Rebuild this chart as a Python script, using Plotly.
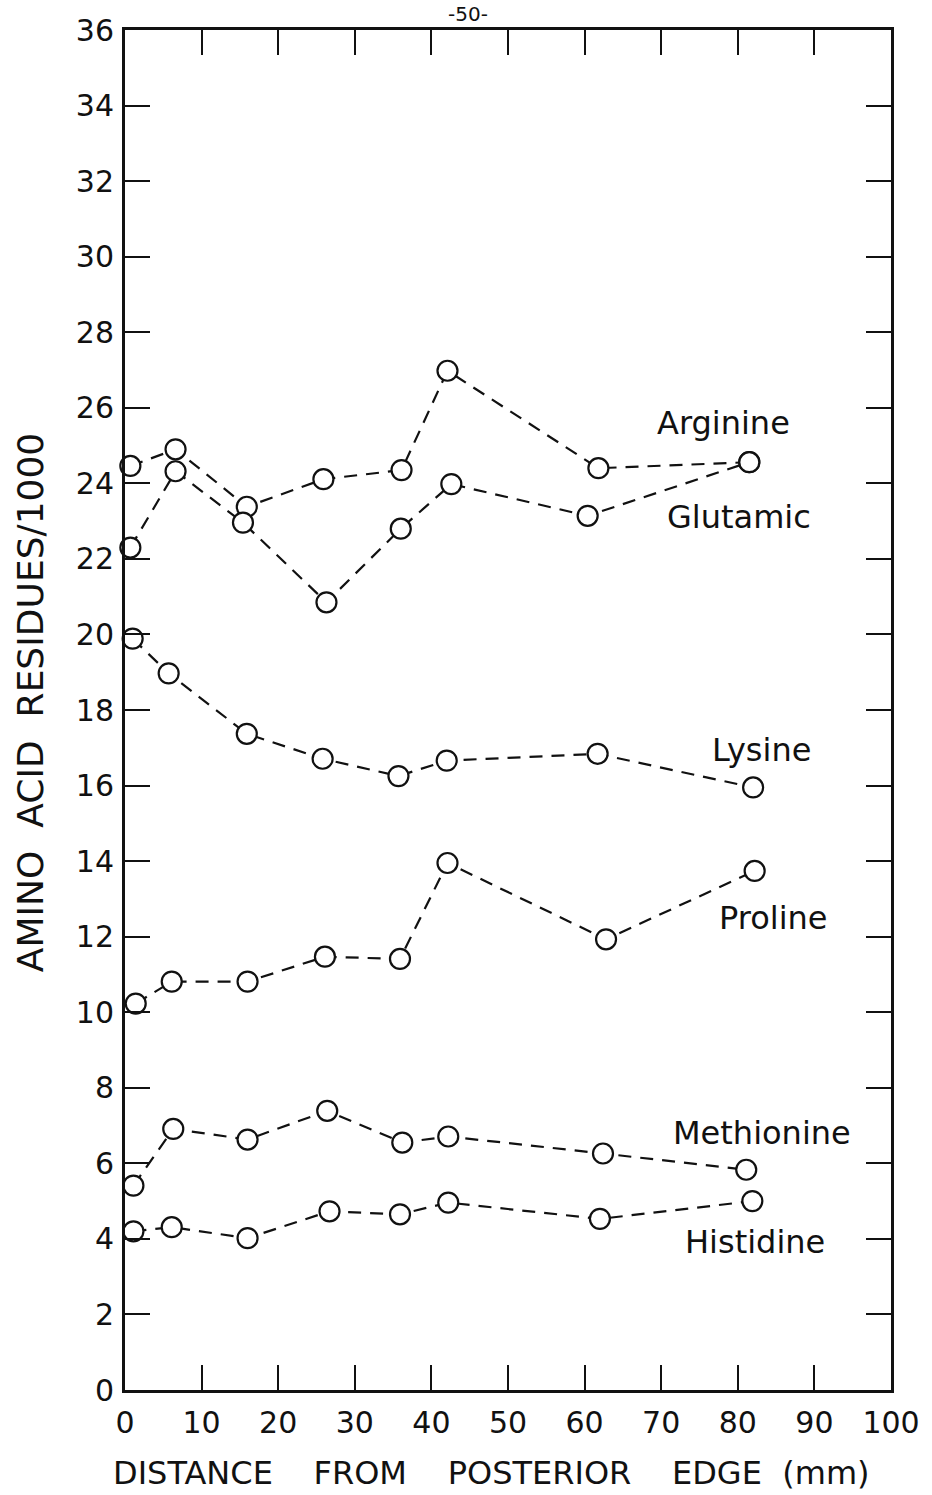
import plotly.graph_objects as go

# Distance from posterior edge (mm) and residues per 1000 for each amino acid
arg_x = [0.7, 6.6, 15.9, 25.9, 36.1, 42.1, 61.8, 81.5]
arg_y = [24.46, 24.90, 23.38, 24.11, 24.35, 26.98, 24.40, 24.56]
glu_x = [0.7, 6.6, 15.4, 26.3, 36.0, 42.6, 60.4, 81.5]
glu_y = [22.30, 24.32, 22.96, 20.85, 22.80, 23.98, 23.14, 24.56]
lys_x = [1.0, 5.7, 15.9, 25.8, 35.7, 42.0, 61.7, 82.0]
lys_y = [19.89, 18.97, 17.37, 16.71, 16.25, 16.66, 16.84, 15.95]
pro_x = [1.4, 6.1, 16.0, 26.1, 35.9, 42.1, 62.8, 82.2]
pro_y = [10.23, 10.81, 10.81, 11.47, 11.41, 13.95, 11.93, 13.74]
met_x = [1.1, 6.3, 16.0, 26.4, 36.2, 42.2, 62.4, 81.1]
met_y = [5.41, 6.91, 6.63, 7.39, 6.55, 6.71, 6.26, 5.83]
his_x = [1.1, 6.1, 16.0, 26.7, 35.9, 42.2, 62.0, 81.9]
his_y = [4.20, 4.31, 4.02, 4.73, 4.65, 4.96, 4.53, 5.00]

series = [
    ("Arginine", arg_x, arg_y),
    ("Glutamic", glu_x, glu_y),
    ("Lysine", lys_x, lys_y),
    ("Proline", pro_x, pro_y),
    ("Methionine", met_x, met_y),
    ("Histidine", his_x, his_y),
]

# Curve labels: (text, x, y)
curve_labels = [
    ("Arginine", 78.1, 25.6),
    ("Glutamic", 80.1, 23.1),
    ("Lysine", 83.1, 16.93),
    ("Proline", 84.6, 12.49),
    ("Methionine", 83.1, 6.8),
    ("Histidine", 82.3, 3.93),
]

x_ticks = list(range(0, 101, 10))
y_ticks = list(range(0, 37, 2))

FONT = "DejaVu Sans"
INK = "#111111"
NB = "\u00a0"

fig = go.Figure()
for name, xs, ys in series:
    fig.add_trace(go.Scatter(
        x=xs, y=ys, name=name, mode="lines+markers",
        line=dict(color=INK, width=2.2, dash="13px,9px"),
        marker=dict(symbol="circle", size=20, color="white",
                    line=dict(width=2.2, color=INK)),
        cliponaxis=False, showlegend=False,
    ))

for text, lx, ly in curve_labels:
    fig.add_annotation(x=lx, y=ly, text=text, showarrow=False,
                       font=dict(family=FONT, size=32, color=INK))

# Page number above the frame
fig.add_annotation(xref="paper", yref="paper", x=0.448, y=1.0, yshift=16,
                   yanchor="middle", text="-50-", showarrow=False,
                   font=dict(family=FONT, size=20, color=INK))

# Axis titles
wide_gap = NB * 3 + " "
x_title = wide_gap.join(["DISTANCE", "FROM", "POSTERIOR", "EDGE"]) + NB + " (mm)"
fig.add_annotation(xref="paper", yref="paper", x=0.478, y=0.0, yshift=-83,
                   xanchor="center", yanchor="middle", text=x_title,
                   showarrow=False, font=dict(family=FONT, size=32, color=INK))
y_title = (NB + " ").join(["AMINO", "ACID", "RESIDUES/1000"])
fig.add_annotation(xref="paper", yref="paper", x=0.0, y=0.505, xshift=-95,
                   xanchor="center", yanchor="middle", textangle=-90,
                   text=y_title, showarrow=False,
                   font=dict(family=FONT, size=36, color=INK))

axis_common = dict(
    showgrid=False, zeroline=False, showline=True, linecolor=INK,
    linewidth=3, mirror="ticks", ticks="inside", ticklen=25,
    tickwidth=2, tickcolor=INK,
    tickfont=dict(family=FONT, size=30, color=INK),
)

fig.update_xaxes(range=[0, 100], tickvals=x_ticks,
                 ticktext=[str(v) for v in x_ticks],
                 ticklabelstandoff=4, **axis_common)
fig.update_yaxes(range=[0, 36], tickvals=y_ticks,
                 ticktext=[str(v) for v in y_ticks],
                 ticklabelstandoff=2, **axis_common)

fig.update_layout(
    width=932, height=1495,
    margin=dict(l=125, r=39, t=25, b=105),
    paper_bgcolor="white", plot_bgcolor="white",
)

fig.write_html("out.html")
